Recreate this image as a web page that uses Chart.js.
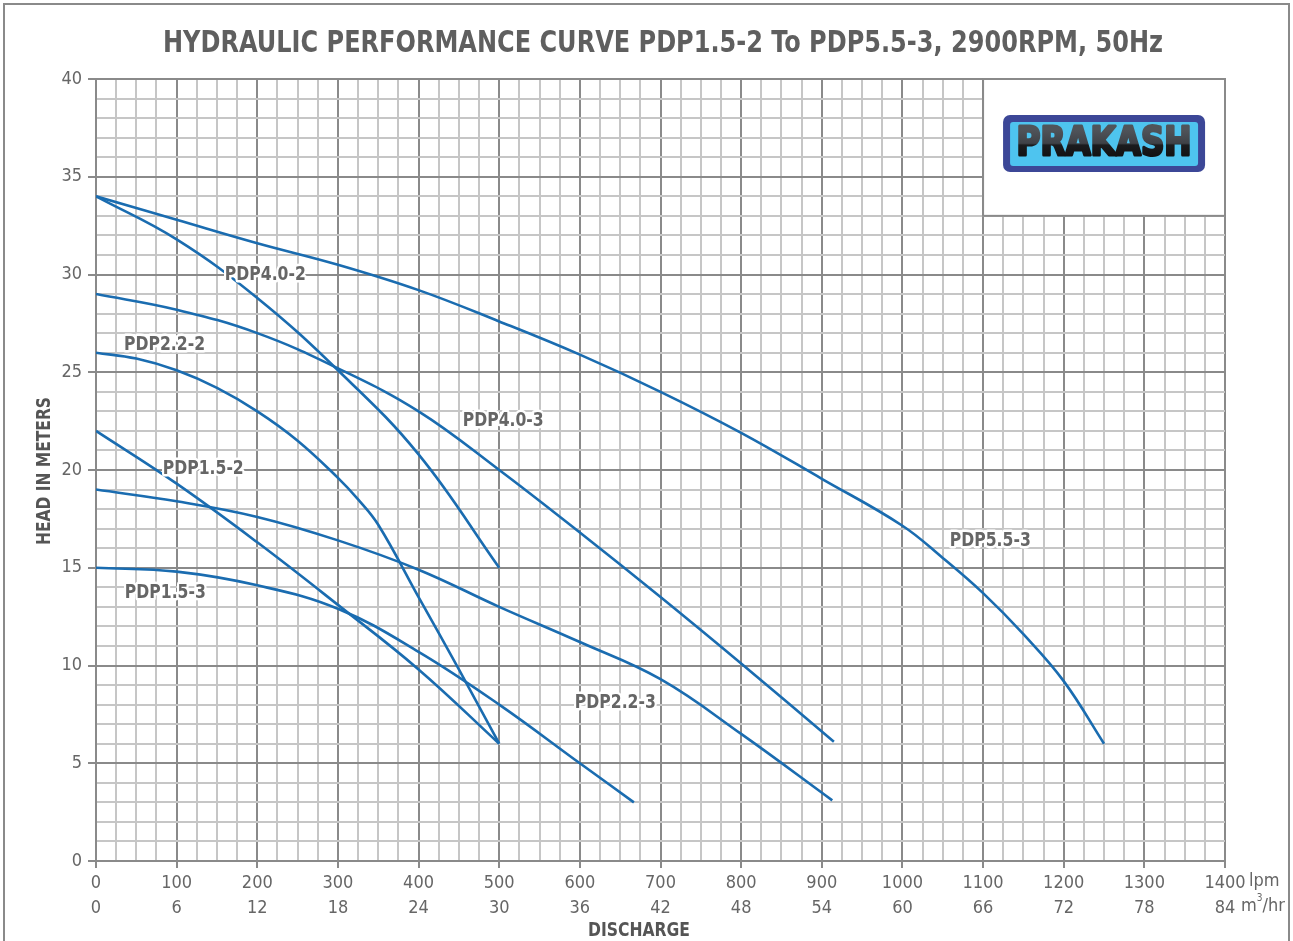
<!DOCTYPE html>
<html>
<head>
<meta charset="utf-8">
<script src="https://cdn.jsdelivr.net/npm/chart.js@4"></script>
<style>
  html, body { margin: 0; padding: 0; background: #fff; }
  #wrap { width: 1293px; height: 941px; }
</style>
</head>
<body>
<div id="wrap"><canvas id="c" width="1293" height="941"></canvas></div>
<script>
// discharge in lpm, head in metres
var flow15_2 = [0, 100, 200, 300, 400, 500];
var head15_2 = [22, 19.3, 16.3, 13.1, 9.8, 6];

var flow15_3 = [0, 100, 200, 300, 400, 500, 600, 667];
var head15_3 = [15, 14.8, 14.1, 12.9, 10.7, 8.0, 5.0, 3.0];

var flow22_2 = [0, 50, 100, 150, 200, 250, 300, 325, 350, 400, 450, 500];
var head22_2 = [26, 25.7, 25.1, 24.2, 23.0, 21.5, 19.6, 18.5, 17.2, 13.5, 9.8, 6];

var flow22_3 = [0, 100, 200, 300, 400, 500, 600, 700, 800, 913];
var head22_3 = [19, 18.4, 17.6, 16.4, 14.9, 13.0, 11.2, 9.3, 6.5, 3.1];

var flow40_2 = [0, 100, 200, 300, 400, 500];
var head40_2 = [34, 31.8, 28.8, 25.1, 20.8, 15];

var flow40_3 = [0, 100, 200, 300, 400, 500, 600, 700, 800, 915];
var head40_3 = [29, 28.2, 27.0, 25.2, 23.0, 20.0, 16.8, 13.5, 10.1, 6.1];

var flow55_3 = [0, 100, 200, 300, 400, 500, 600, 700, 800, 900, 1000, 1050, 1100, 1150, 1200, 1250];
var head55_3 = [34, 32.8, 31.6, 30.5, 29.2, 27.6, 25.9, 24.0, 21.9, 19.55, 17.15, 15.5, 13.7, 11.6, 9.2, 6.0];

// curve names and where their names sit (lpm, m)
var curveNames = ['PDP4.0-2', 'PDP2.2-2', 'PDP4.0-3', 'PDP1.5-2', 'PDP5.5-3', 'PDP1.5-3', 'PDP2.2-3'];
var labelFlow  = [210, 85, 505, 133, 1109, 86, 644];
var labelHead  = [30, 26.4, 22.5, 20.05, 16.4, 13.7, 8.1];

var lpmTicks = [0, 100, 200, 300, 400, 500, 600, 700, 800, 900, 1000, 1100, 1200, 1300, 1400];
var m3hTicks = [0, 6, 12, 18, 24, 30, 36, 42, 48, 54, 60, 66, 72, 78, 84];

var BLUE = '#1a6cb0';
var NARROW = '"DejaVu Sans Condensed", "Roboto", sans-serif';

function pts(xs, ys) {
  var out = [];
  for (var i = 0; i < xs.length; i++) out.push({x: xs[i], y: ys[i]});
  return out;
}

function curve(name, xs, ys) {
  return {
    label: name,
    data: pts(xs, ys),
    borderColor: BLUE,
    borderWidth: 2.6,
    pointRadius: 0,
    fill: false,
    tension: 0.4
  };
}

// text squeezed to a given width, like the condensed face of the sheet
function squeezed(ctx, text, x, y, font, width, align, stroke, paint) {
  ctx.save();
  ctx.font = font;
  var w = ctx.measureText(text).width;
  var sx = width ? width / w : 1;
  ctx.translate(x, y);
  ctx.scale(sx, 1);
  if (paint) paint(ctx);
  ctx.textAlign = align || 'center';
  ctx.textBaseline = 'middle';
  if (stroke) ctx.strokeText(text, 0, 0);
  ctx.fillText(text, 0, 0);
  ctx.restore();
}

var sheetPlugin = {
  id: 'sheet',
  beforeDraw: function(chart) {
    var ctx = chart.ctx;
    ctx.save();
    ctx.fillStyle = '#fff';
    ctx.fillRect(0, 0, chart.width, chart.height);
    ctx.strokeStyle = '#8a8a8a';
    ctx.lineWidth = 2;
    ctx.strokeRect(4, 4, chart.width - 8, chart.height + 10);
    ctx.restore();
  },
  beforeDatasetsDraw: function(chart) {
    // white box holding the logo, top right of the grid
    var ctx = chart.ctx, xs = chart.scales.x, ys = chart.scales.y;
    var x0 = xs.getPixelForValue(1100), x1 = xs.getPixelForValue(1400);
    var y0 = ys.getPixelForValue(40), y1 = ys.getPixelForValue(33);
    ctx.save();
    ctx.fillStyle = '#fff';
    ctx.fillRect(x0, y0, x1 - x0, y1 - y0);
    ctx.strokeStyle = '#8a8a8a';
    ctx.lineWidth = 2;
    ctx.strokeRect(x0, y0, x1 - x0, y1 - y0);

    var bx = x0 + 20, by = y0 + 36, bw = 202, bh = 57;
    ctx.beginPath();
    ctx.roundRect(bx, by, bw, bh, 7);
    ctx.fillStyle = '#3c4797';
    ctx.fill();
    ctx.beginPath();
    ctx.roundRect(bx + 7, by + 7, bw - 14, bh - 13, 3);
    ctx.fillStyle = '#4ec4ef';
    ctx.fill();
    ctx.lineWidth = 3;
    ctx.lineJoin = 'round';
    squeezed(ctx, 'PRAKASH', bx + bw / 2, by + bh / 2 + 1, 'bold 39px "DejaVu Sans", sans-serif', 175, 'center', true,
      function(c) {
        var g = c.createLinearGradient(0, -15, 0, 15);
        g.addColorStop(0, '#50545a');
        g.addColorStop(0.46, '#3f4247');
        g.addColorStop(0.52, '#1b1c1e');
        g.addColorStop(1, '#101010');
        c.fillStyle = g;
        c.strokeStyle = g;
      });
    ctx.restore();
  },
  afterDatasetsDraw: function(chart) {
    var ctx = chart.ctx, xs = chart.scales.x, ys = chart.scales.y;
    ctx.save();
    ctx.lineJoin = 'round';
    for (var i = 0; i < curveNames.length; i++) {
      var px = xs.getPixelForValue(labelFlow[i]);
      var py = ys.getPixelForValue(labelHead[i]);
      ctx.strokeStyle = '#fff';
      ctx.lineWidth = 5;
      ctx.fillStyle = '#666';
      squeezed(ctx, curveNames[i], px, py, 'bold 20px ' + NARROW, 81, 'center', true);
    }
    ctx.restore();
  },
  afterDraw: function(chart) {
    var ctx = chart.ctx, a = chart.chartArea;
    ctx.save();
    ctx.fillStyle = '#5f5f5f';
    squeezed(ctx, 'HYDRAULIC PERFORMANCE CURVE PDP1.5-2 To PDP5.5-3, 2900RPM, 50Hz',
      663, 44, 'bold 31px ' + NARROW, 1000);

    ctx.fillStyle = '#555';
    squeezed(ctx, 'DISCHARGE', 639, 931, 'bold 20px ' + NARROW, 102);

    ctx.save();
    ctx.translate(45, 471);
    ctx.rotate(-Math.PI / 2);
    squeezed(ctx, 'HEAD IN METERS', 0, 0, 'bold 20px ' + NARROW, 148);
    ctx.restore();

    ctx.fillStyle = '#666';
    ctx.font = '18px ' + NARROW;
    ctx.textAlign = 'left';
    ctx.textBaseline = 'middle';
    ctx.fillText('lpm', a.right + 24, 881);
    ctx.fillText('m', a.right + 16, 906);
    var mw = ctx.measureText('m').width;
    ctx.font = '10px ' + NARROW;
    ctx.fillText('3', a.right + 16 + mw, 898);
    var sw = ctx.measureText('3').width;
    ctx.font = '18px ' + NARROW;
    ctx.fillText('/hr', a.right + 16 + mw + sw, 906);
    ctx.restore();
  }
};

var chart = new Chart(document.getElementById('c'), {
  type: 'line',
  data: {
    datasets: [
      curve('PDP1.5-2', flow15_2, head15_2),
      curve('PDP1.5-3', flow15_3, head15_3),
      curve('PDP2.2-2', flow22_2, head22_2),
      curve('PDP2.2-3', flow22_3, head22_3),
      curve('PDP4.0-2', flow40_2, head40_2),
      curve('PDP4.0-3', flow40_3, head40_3),
      curve('PDP5.5-3', flow55_3, head55_3)
    ]
  },
  options: {
    responsive: false,
    animation: false,
    devicePixelRatio: 1,
    layout: { padding: { top: 79, left: 0, right: 68, bottom: 0 } },
    plugins: { legend: { display: false }, title: { display: false }, tooltip: { enabled: false } },
    scales: {
      x: {
        type: 'linear',
        min: 0, max: 1400,
        afterFit: function(s) { s.height = 80; },
        afterBuildTicks: function(s) {
          var t = [];
          for (var v = 0; v <= 1400; v += 25) t.push({value: v});
          s.ticks = t;
        },
        ticks: {
          autoSkip: false, maxRotation: 0, padding: 3,
          color: '#666',
          font: { family: NARROW, size: 18, lineHeight: 1.4 },
          callback: function(v) {
            var k = lpmTicks.indexOf(v);
            return k < 0 ? '' : [String(lpmTicks[k]), String(m3hTicks[k])];
          }
        },
        grid: {
          color: function(c) { return c.tick && c.tick.value % 100 === 0 ? '#8a8a8a' : '#c6c6c6'; },
          tickColor: function(c) { return c.tick && c.tick.value % 100 === 0 ? '#8a8a8a' : 'rgba(0,0,0,0)'; },
          lineWidth: 2,
          tickLength: 7
        },
        border: { color: '#8a8a8a', width: 2 }
      },
      y: {
        type: 'linear',
        min: 0, max: 40,
        afterFit: function(s) { s.width = 96; },
        afterBuildTicks: function(s) {
          var t = [];
          for (var v = 0; v <= 40; v += 1) t.push({value: v});
          s.ticks = t;
        },
        ticks: {
          autoSkip: false, padding: 6,
          color: '#666',
          font: { family: NARROW, size: 18 },
          callback: function(v) { return v % 5 === 0 ? String(v) : ''; }
        },
        grid: {
          color: function(c) { return c.tick && c.tick.value % 5 === 0 ? '#8a8a8a' : '#c6c6c6'; },
          tickColor: function(c) { return c.tick && c.tick.value % 5 === 0 ? '#8a8a8a' : 'rgba(0,0,0,0)'; },
          lineWidth: 2,
          tickLength: 8
        },
        border: { color: '#8a8a8a', width: 2 }
      }
    }
  },
  plugins: [sheetPlugin]
});
</script>
</body>
</html>
